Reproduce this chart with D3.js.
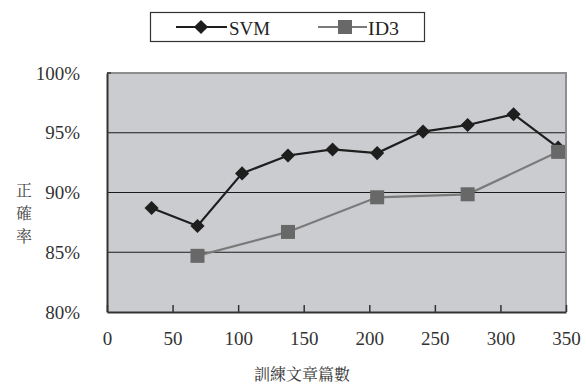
<!DOCTYPE html>
<html>
<head>
<meta charset="utf-8">
<script src="https://cdn.jsdelivr.net/npm/d3@7"></script>
<style>
  html, body { margin: 0; padding: 0; background: #ffffff; }
  svg { display: block; }
  .lat { font-family: "Liberation Serif", "Times New Roman", serif; }
  .cjk { font-family: "Noto Serif CJK TC", "Noto Sans CJK TC", serif; }
</style>
</head>
<body>
<svg id="chart" width="586" height="387"></svg>
<script>
// Training-set size (number of articles)
const trainSizes = [34, 69, 103, 138, 172, 206, 241, 275, 310, 344];
// Accuracy (%) of each classifier
const svmAccuracy = [88.7, 87.2, 91.6, 93.1, 93.6, 93.3, 95.1, 95.65, 96.55, 93.75];
const id3Sizes = [69, 138, 206, 275, 344];
const id3Accuracy = [84.7, 86.7, 89.6, 89.85, 93.4];
const xTicks = [0, 50, 100, 150, 200, 250, 300, 350];
const yTicks = [80, 85, 90, 95, 100];
const seriesNames = ["SVM", "ID3"];
const yTitle = ["正", "確", "率"];
const xTitle = "訓練文章篇數";

const svg = d3.select("#chart");
const margin = { left: 107, right: 20, top: 73, bottom: 75 };
const W = 586, H = 387;
const x = d3.scaleLinear().domain([0, 350]).range([margin.left, W - margin.right]);
const y = d3.scaleLinear().domain([80, 100]).range([H - margin.bottom, margin.top]);

// Plot background
svg.append("rect")
  .attr("x", x(0)).attr("y", y(100))
  .attr("width", x(350) - x(0)).attr("height", y(80) - y(100))
  .attr("fill", "#cbcccf");

// Horizontal gridlines
svg.append("g").selectAll("line")
  .data(yTicks.filter(v => v > 80 && v < 100))
  .join("line")
  .attr("x1", x(0)).attr("x2", x(350))
  .attr("y1", d => y(d)).attr("y2", d => y(d))
  .attr("stroke", "#1a1a1a").attr("stroke-width", 1.2);

// Top and right border
svg.append("path")
  .attr("d", `M${x(0)},${y(100)}H${x(350)}V${y(80)}`)
  .attr("fill", "none").attr("stroke", "#8e8e8e").attr("stroke-width", 2);

// Left axis (percent labels)
const yAxis = svg.append("g")
  .attr("transform", `translate(${x(0)},0)`)
  .call(d3.axisLeft(y).tickValues(yTicks).tickFormat(d => d + "%").tickSize(0).tickPadding(27));
yAxis.attr("font-family", null).attr("font-size", null);
yAxis.select(".domain").attr("stroke", "#333").attr("stroke-width", 2);
yAxis.selectAll("text")
  .attr("class", "lat").style("font-size", "19px").attr("fill", "#333");
// small tick at 100%
svg.append("line")
  .attr("x1", x(0)).attr("x2", x(0) + 4).attr("y1", y(100)).attr("y2", y(100))
  .attr("stroke", "#333").attr("stroke-width", 1.5);

// Bottom axis with ticks pointing into the plot
const xAxis = svg.append("g")
  .attr("transform", `translate(0,${y(80)})`)
  .call(d3.axisBottom(x).tickValues(xTicks).tickSizeInner(-7).tickSizeOuter(0).tickPadding(20));
xAxis.attr("font-family", null).attr("font-size", null);
xAxis.select(".domain").attr("stroke", "#333").attr("stroke-width", 2);
xAxis.selectAll(".tick line").attr("stroke", "#333").attr("stroke-width", 1.5);
xAxis.selectAll("text")
  .attr("class", "lat").style("font-size", "19px").attr("fill", "#333");

// Axis titles
svg.append("text")
  .attr("class", "cjk")
  .attr("x", 302).attr("y", 380)
  .attr("text-anchor", "middle")
  .style("font-size", "16px").attr("fill", "#333")
  .text(xTitle);
svg.append("g").selectAll("text")
  .data(yTitle)
  .join("text")
  .attr("class", "cjk")
  .attr("x", 24).attr("y", (d, i) => 196 + i * 23)
  .attr("text-anchor", "middle")
  .style("font-size", "16px").attr("fill", "#444")
  .text(d => d);

const line = d3.line().x(d => x(d[0])).y(d => y(d[1]));
const svmData = trainSizes.map((s, i) => [s, svmAccuracy[i]]);
const id3Data = id3Sizes.map((s, i) => [s, id3Accuracy[i]]);

// ID3 series
svg.append("path").datum(id3Data)
  .attr("d", line).attr("fill", "none")
  .attr("stroke", "#7a7a7a").attr("stroke-width", 2.2);

// SVM series
svg.append("path").datum(svmData)
  .attr("d", line).attr("fill", "none")
  .attr("stroke", "#1e1e1e").attr("stroke-width", 2.2);
svg.append("g").selectAll("path")
  .data(svmData)
  .join("path")
  .attr("d", d3.symbol(d3.symbolSquare, 100)())
  .attr("transform", d => `translate(${x(d[0])},${y(d[1])}) rotate(45)`)
  .attr("fill", "#1e1e1e");

// ID3 markers on top
svg.append("g").selectAll("rect")
  .data(id3Data)
  .join("rect")
  .attr("x", d => x(d[0]) - 7).attr("y", d => y(d[1]) - 7)
  .attr("width", 14).attr("height", 14)
  .attr("fill", "#686868");

// Legend
const lg = svg.append("g");
lg.append("rect")
  .attr("x", 150.5).attr("y", 12.5).attr("width", 274).attr("height", 29)
  .attr("fill", "#fff").attr("stroke", "#333").attr("stroke-width", 1.2);
lg.append("line").attr("x1", 176).attr("x2", 227).attr("y1", 27).attr("y2", 27)
  .attr("stroke", "#1e1e1e").attr("stroke-width", 2.2);
lg.append("path")
  .attr("d", d3.symbol(d3.symbolSquare, 100)())
  .attr("transform", "translate(201,27) rotate(45)")
  .attr("fill", "#1e1e1e");
lg.append("text").attr("class", "lat").attr("x", 229).attr("y", 35)
  .style("font-size", "19px").attr("fill", "#222")
  .attr("textLength", 41).attr("lengthAdjust", "spacingAndGlyphs")
  .text(seriesNames[0]);
lg.append("line").attr("x1", 318).attr("x2", 367).attr("y1", 27).attr("y2", 27)
  .attr("stroke", "#7a7a7a").attr("stroke-width", 2.2);
lg.append("rect").attr("x", 338).attr("y", 20).attr("width", 14).attr("height", 14)
  .attr("fill", "#686868");
lg.append("text").attr("class", "lat").attr("x", 368).attr("y", 35)
  .style("font-size", "19px").attr("fill", "#222")
  .attr("textLength", 31).attr("lengthAdjust", "spacingAndGlyphs")
  .text(seriesNames[1]);
</script>
</body>
</html>
